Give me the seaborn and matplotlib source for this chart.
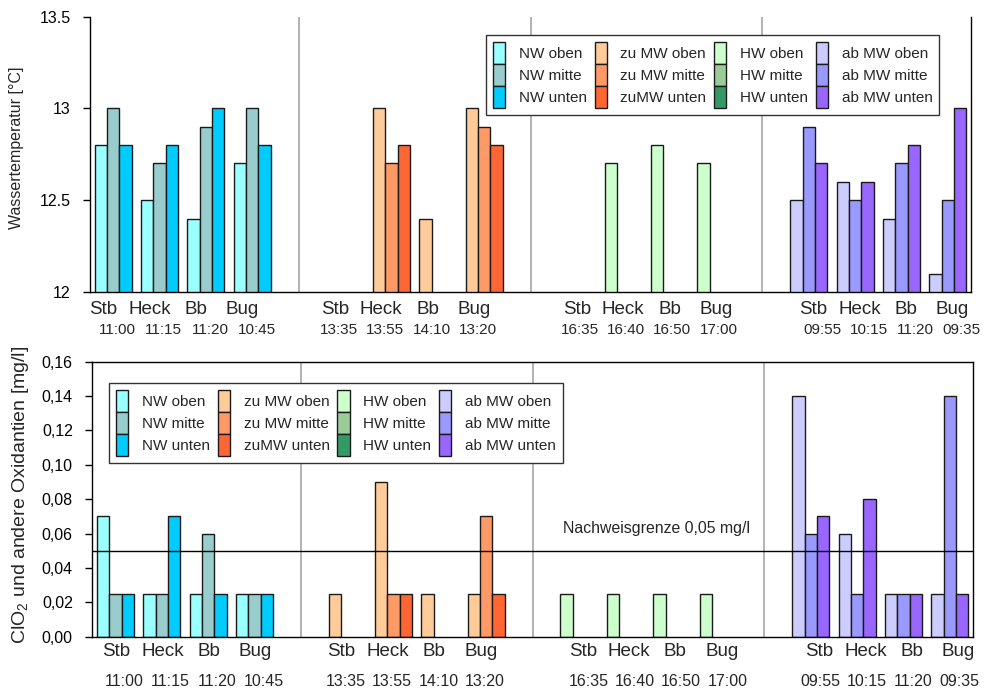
import numpy as np
import pandas as pd
import matplotlib
matplotlib.use("Agg")
import matplotlib.pyplot as plt
import matplotlib.transforms as mtransforms
from matplotlib.patches import Patch
import seaborn as sns

nan = np.nan

# ---------------------------------------------------------------- data
groups = ["NW", "zu MW", "HW", "ab MW"]
positions = ["Stb", "Heck", "Bb", "Bug"]
levels = ["oben", "mitte", "unten"]

times = [
    ["11:00", "11:15", "11:20", "10:45"],
    ["13:35", "13:55", "14:10", "13:20"],
    ["16:35", "16:40", "16:50", "17:00"],
    ["09:55", "10:15", "11:20", "09:35"],
]

legend_labels = [
    "NW oben", "NW mitte", "NW unten",
    "zu MW oben", "zu MW mitte", "zuMW unten",
    "HW oben", "HW mitte", "HW unten",
    "ab MW oben", "ab MW mitte", "ab MW unten",
]

colors = {
    "NW": ["#99FFFF", "#99CCCC", "#00CCFF"],
    "zu MW": ["#FFCC99", "#FF9966", "#FF6633"],
    "HW": ["#CCFFCC", "#99CC99", "#339966"],
    "ab MW": ["#CCCCFF", "#9999FF", "#9966FF"],
}

# water temperature [°C]; rows = Stb, Heck, Bb, Bug; columns = oben, mitte, unten
temp_nw = [[12.8, 13.0, 12.8], [12.5, 12.7, 12.8], [12.4, 12.9, 13.0], [12.7, 13.0, 12.8]]
temp_zumw = [[nan, nan, nan], [13.0, 12.7, 12.8], [12.4, nan, nan], [13.0, 12.9, 12.8]]
temp_hw = [[nan, nan, nan], [12.7, nan, nan], [12.8, nan, nan], [12.7, nan, nan]]
temp_abmw = [[12.5, 12.9, 12.7], [12.6, 12.5, 12.6], [12.4, 12.7, 12.8], [12.1, 12.5, 13.0]]

# ClO2 and other oxidants [mg/l]
ox_nw = [[0.07, 0.025, 0.025], [0.025, 0.025, 0.07], [0.025, 0.06, 0.025], [0.025, 0.025, 0.025]]
ox_zumw = [[0.025, nan, nan], [0.09, 0.025, 0.025], [0.025, nan, nan], [0.025, 0.07, 0.025]]
ox_hw = [[0.025, nan, nan], [0.025, nan, nan], [0.025, nan, nan], [0.025, nan, nan]]
ox_abmw = [[0.14, 0.06, 0.07], [0.06, 0.025, 0.08], [0.025, 0.025, 0.025], [0.025, 0.14, 0.025]]

detection_limit = 0.05
detection_label = "Nachweisgrenze 0,05 mg/l"

temp_ticks = [12, 12.5, 13, 13.5]
temp_tick_labels = ["12", "12.5", "13", "13.5"]
ox_ticks = [0.00, 0.02, 0.04, 0.06, 0.08, 0.10, 0.12, 0.14, 0.16]
ox_tick_labels = ["0,00", "0,02", "0,04", "0,06", "0,08", "0,10", "0,12", "0,14", "0,16"]

temperature = dict(zip(groups, [temp_nw, temp_zumw, temp_hw, temp_abmw]))
oxidants = dict(zip(groups, [ox_nw, ox_zumw, ox_hw, ox_abmw]))

# ---------------------------------------------------------------- layout helpers
slot_order = []
for gi, g in enumerate(groups):
    slot_order += [f"{g} {p}" for p in positions]
    if gi < len(groups) - 1:
        slot_order.append(f"gap {gi}")
separators = [slot_order.index(f"gap {gi}") for gi in range(len(groups) - 1)]


def long_frame(group, table):
    rows = []
    for p, vals in zip(positions, table):
        for lvl, v in zip(levels, vals):
            if not np.isnan(v):
                rows.append({"slot": f"{group} {p}", "level": lvl, "value": v})
    return pd.DataFrame(rows)


def draw_bars(ax, values):
    for g in groups:
        sns.barplot(
            data=long_frame(g, values[g]), x="slot", y="value", hue="level",
            order=slot_order, hue_order=levels, palette=colors[g],
            saturation=1, width=0.8, dodge=True, errorbar=None,
            edgecolor="#1a1a1a", linewidth=1.0, legend=False, ax=ax,
        )
    for s in separators:
        ax.axvline(s, color="#ADADAD", lw=1.3, zorder=0)
    ax.set_xlim(-0.5, len(slot_order) - 0.5)
    ax.set_xticks([])
    ax.set_xlabel("")
    ax.set_ylabel("")


def draw_categories(ax, name_y, time_y, name_shift, time_shift, name_size, time_size):
    trans = mtransforms.blended_transform_factory(ax.transData, ax.transAxes)
    for gi, g in enumerate(groups):
        for pi, p in enumerate(positions):
            x = slot_order.index(f"{g} {p}")
            ax.text(x + name_shift[gi], name_y, p, transform=trans, ha="center",
                    va="baseline", fontsize=name_size)
            ax.text(x + time_shift[gi], time_y, times[gi][pi], transform=trans,
                    ha="center", va="baseline", fontsize=time_size)


def add_legend(ax, anchor):
    handles = []
    for g in groups:
        for c in colors[g]:
            handles.append(Patch(facecolor=c, edgecolor="#1a1a1a", linewidth=1.0))
    leg = ax.legend(
        handles, legend_labels, ncol=4, loc="upper left", bbox_to_anchor=anchor,
        frameon=True, fancybox=False, framealpha=1, edgecolor="#333333",
        handlelength=0.8, handleheight=1.84, handletextpad=0.9,
        columnspacing=0.5, labelspacing=0.0, borderpad=0.45, borderaxespad=0,
        fontsize=11,
    )
    leg.get_frame().set_linewidth(1.0)
    return leg


# ---------------------------------------------------------------- figure
sns.set_theme(style="ticks")
plt.rcParams["font.family"] = ["Liberation Sans", "DejaVu Sans"]
plt.rcParams["mathtext.fontset"] = "custom"
plt.rcParams["mathtext.rm"] = "Liberation Sans"
plt.rcParams["axes.edgecolor"] = "black"
plt.rcParams["axes.linewidth"] = 1.0

fig = plt.figure(figsize=(9.87, 6.91), dpi=100)
ax_t = fig.add_axes([0.0912, 0.5774, 0.8926, 0.3987])
ax_b = fig.add_axes([0.0935, 0.0786, 0.8923, 0.3980])

# upper panel: water temperature
draw_bars(ax_t, temperature)
ax_t.set_ylim(12, 13.5)
ax_t.set_yticks(temp_ticks)
ax_t.set_yticklabels(temp_tick_labels)
ax_t.spines["top"].set_visible(False)
ax_t.tick_params(axis="y", direction="out", length=5, width=1, labelsize=11.5, pad=9,
                 colors="black")
draw_categories(ax_t, -0.078, -0.152, [-0.22, -0.22, 0.0, 0.1], [0.09, -0.13, 0.06, 0.29],
                13.5, 11)
add_legend(ax_t, (0.4495, 0.933))
fig.text(17 / 987, 1 - 148 / 691, "Wassertemperatur [°C]", rotation=90,
         ha="center", va="center", fontsize=11.5)

# lower panel: oxidants
draw_bars(ax_b, oxidants)
ax_b.set_ylim(0, 0.16)
ax_b.set_yticks(ox_ticks)
ax_b.set_yticklabels(ox_tick_labels)
ax_b.tick_params(axis="y", direction="out", length=5, width=1, labelsize=11.5, pad=9,
                 colors="black")
ax_b.axhline(detection_limit, color="black", lw=1.0, zorder=3)
ax_b.text(9.66, 0.0632, detection_label, ha="left", va="center", fontsize=11.4)
draw_categories(ax_b, -0.072, -0.178, [0.02, -0.12, 0.08, 0.19], [0.19, -0.03, 0.2, 0.2],
                13.5, 11.5)
add_legend(ax_b, (0.0193, 0.9215))
fig.text(21 / 987, 1 - 495 / 691,
         r"ClO$_\mathregular{2}$ und andere Oxidantien [mg/l]", rotation=90,
         ha="center", va="center", fontsize=14)

fig.savefig("out.png", dpi=100)
